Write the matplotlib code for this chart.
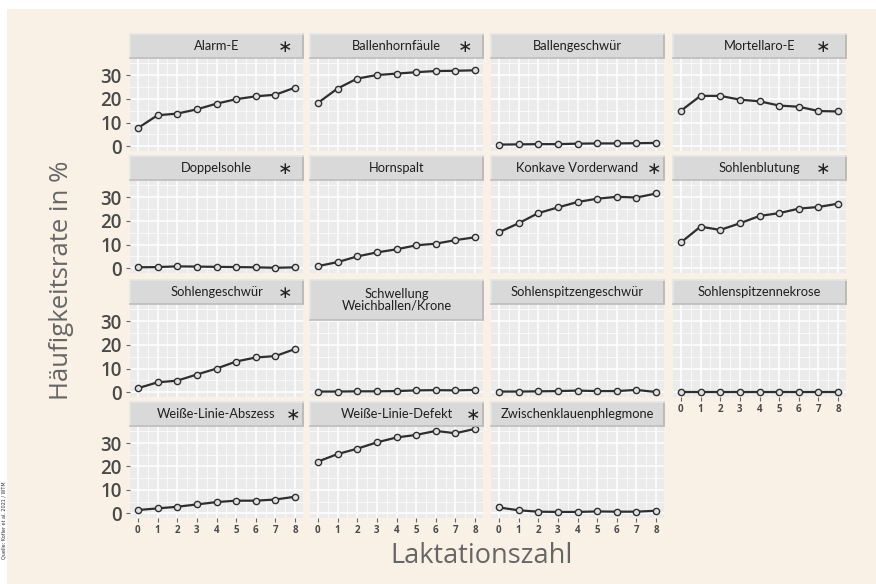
import matplotlib
matplotlib.use("Agg")
import matplotlib.pyplot as plt
from matplotlib.patches import Rectangle
from matplotlib.ticker import MultipleLocator

# Laktationszahl 0..8
lactation = [0, 1, 2, 3, 4, 5, 6, 7, 8]

alarm_e = [7.7, 13.1, 13.8, 15.6, 18.0, 19.9, 21.1, 21.8, 24.8]
ballenhornfaeule = [18.3, 24.4, 28.6, 30.1, 30.7, 31.3, 31.8, 31.9, 32.1]
ballengeschwuer = [0.7, 0.8, 0.9, 0.9, 1.1, 1.2, 1.2, 1.3, 1.4]
mortellaro_e = [15.0, 21.3, 21.3, 19.7, 19.0, 17.2, 16.7, 14.9, 14.7]
doppelsohle = [0.4, 0.5, 0.8, 0.7, 0.6, 0.5, 0.4, 0.2, 0.4]
hornspalt = [0.9, 2.6, 5.0, 6.7, 8.0, 9.7, 10.4, 11.9, 13.1]
konkave_vorderwand = [15.2, 19.0, 23.3, 25.7, 28.0, 29.4, 30.2, 29.9, 31.6]
sohlenblutung = [10.9, 17.6, 16.2, 19.0, 22.1, 23.3, 25.2, 25.9, 27.3]
sohlengeschwuer = [1.7, 4.2, 4.9, 7.5, 10.0, 13.0, 14.7, 15.3, 18.3]
schwellung = [0.3, 0.3, 0.4, 0.4, 0.5, 0.8, 0.9, 0.8, 1.0]
sohlenspitzengeschwuer = [0.3, 0.3, 0.4, 0.5, 0.7, 0.5, 0.5, 1.0, 0.1]
sohlenspitzennekrose = [0.1, 0.1, 0.1, 0.1, 0.1, 0.1, 0.1, 0.1, 0.1]
wl_abszess = [1.4, 2.1, 2.8, 3.8, 4.8, 5.4, 5.4, 5.9, 7.1]
wl_defekt = [22.1, 25.3, 27.6, 30.3, 32.4, 33.5, 35.2, 34.2, 36.1]
zwischenklauen = [2.5, 1.3, 0.7, 0.6, 0.6, 0.8, 0.7, 0.7, 1.1]

titles = ["Alarm-E", "Ballenhornfäule", "Ballengeschwür", "Mortellaro-E",
          "Doppelsohle", "Hornspalt", "Konkave Vorderwand", "Sohlenblutung",
          "Sohlengeschwür", "Schwellung\nWeichballen/Krone",
          "Sohlenspitzengeschwür", "Sohlenspitzennekrose",
          "Weiße-Linie-Abszess", "Weiße-Linie-Defekt", "Zwischenklauenphlegmone"]
series = [alarm_e, ballenhornfaeule, ballengeschwuer, mortellaro_e,
          doppelsohle, hornspalt, konkave_vorderwand, sohlenblutung,
          sohlengeschwuer, schwellung, sohlenspitzengeschwuer, sohlenspitzennekrose,
          wl_abszess, wl_defekt, zwischenklauen]
significant = ["Alarm-E", "Ballenhornfäule", "Mortellaro-E", "Doppelsohle",
               "Konkave Vorderwand", "Sohlenblutung", "Sohlengeschwür",
               "Weiße-Linie-Abszess", "Weiße-Linie-Defekt"]

# layout in pixels
W, H = 876, 584
col_left = [130, 310, 491, 673]
col_w = 173
rows = [(58, 151), (180, 273), (304, 397), (426, 518)]
strip_h = 24
star_x = {"Konkave Vorderwand": 0.945, "Weiße-Linie-Abszess": 0.945,
          "Weiße-Linie-Defekt": 0.94, "Mortellaro-E": 0.87, "Sohlenblutung": 0.87}

beige = "#f9f1e6"
text_col = "#4a4a4a"
strip_font = ["Lato", "DejaVu Sans"]

fig = plt.figure(figsize=(W / 100, H / 100), dpi=100, facecolor="white")
fig.patches.append(Rectangle((7 / W, 0), 1 - 7 / W, 1 - 9 / H,
                             transform=fig.transFigure, facecolor=beige,
                             edgecolor="none", zorder=-10))


def box(x0, y0, x1, y1):
    return [x0 / W, 1 - y1 / H, (x1 - x0) / W, (y1 - y0) / H]


for i, (name, vals) in enumerate(zip(titles, series)):
    r, c = divmod(i, 4)
    top, bot = rows[r]
    x0 = col_left[c]
    ax = fig.add_axes(box(x0, top, x0 + col_w, bot))
    ax.set_facecolor("#ebebeb")
    ax.set_xlim(-0.4, 8.4)
    ax.set_ylim(-2.0, 37.3)
    ax.xaxis.set_major_locator(MultipleLocator(1))
    ax.xaxis.set_minor_locator(MultipleLocator(0.5))
    ax.yaxis.set_major_locator(MultipleLocator(10))
    ax.yaxis.set_minor_locator(MultipleLocator(5))
    ax.grid(which="major", color="white", lw=1.1)
    ax.grid(which="minor", color="white", lw=0.5)
    ax.set_axisbelow(True)
    for s in ax.spines.values():
        s.set_visible(False)
    ax.tick_params(which="minor", length=0)
    ax.tick_params(which="major", length=3, color="#666666", width=0.8)

    ax.plot(lactation, vals, color="#2e2e2e", lw=1.6, marker="o", ms=4.5,
            mfc="#e2e2e2", mec="#2e2e2e", mew=1.0, zorder=3)

    if c == 0:
        ax.set_yticks([0, 10, 20, 30])
        ax.tick_params(axis="y", labelsize=13.5, labelcolor=text_col, pad=3)
        for t in ax.get_yticklabels():
            t.set_fontfamily(["Open Sans", "DejaVu Sans"])
            t.set_fontweight("semibold")
    else:
        ax.tick_params(axis="y", left=False, labelleft=False)
    if r == 3 or (r == 2 and c == 3):
        ax.tick_params(axis="x", labelsize=7, labelcolor=text_col, pad=2)
        for t in ax.get_xticklabels():
            t.set_fontfamily(["Open Sans", "DejaVu Sans"])
            t.set_fontweight("bold")
    else:
        ax.tick_params(axis="x", bottom=False, labelbottom=False)

    # facet strip
    s_top = top - strip_h
    s_bot = top + 16 if "\n" in name else top
    sax = fig.add_axes(box(x0, s_top, x0 + col_w, s_bot))
    sax.set_facecolor("#d9d9d9")
    sax.set_xticks([])
    sax.set_yticks([])
    sax.spines["top"].set_color("#e6e6e6")
    sax.spines["left"].set_color("#e6e6e6")
    sax.spines["right"].set_color("#b3b3b3")
    sax.spines["bottom"].set_color("#bdbdbd")
    for s in sax.spines.values():
        s.set_linewidth(1.2)
    sax.text(0.5, 0.5, name, ha="center", va="center", fontsize=9.3,
             color="#1f1f1f", family=strip_font, linespacing=1.0,
             transform=sax.transAxes)
    if name in significant:
        sax.text(star_x.get(name, 0.895), 0.45, "∗", ha="center", va="center",
                 fontsize=12.5, color="#222222", transform=sax.transAxes,
                 family=["DejaVu Sans"])

fig.text(62 / W, 1 - 280 / H, "Häufigkeitsrate in %", rotation=90,
         ha="center", va="center", fontsize=18.5, color="#666666",
         family=["Open Sans", "DejaVu Sans"])
fig.text(482 / W, 1 - 556 / H, "Laktationszahl", ha="center", va="center",
         fontsize=19.5, color="#666666", family=["Open Sans", "DejaVu Sans"])
fig.text(1.5 / W, 1 - 520 / H, "Quelle: Kofler et al. 2021 / WTM", rotation=90,
         ha="left", va="center", fontsize=3.5, color="#333333")

fig.savefig("out.png", dpi=100, facecolor=fig.get_facecolor())
